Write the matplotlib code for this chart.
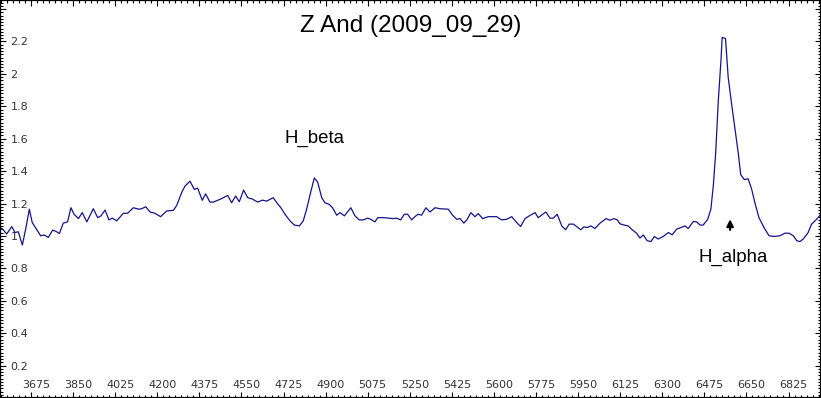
import matplotlib
matplotlib.use("Agg")
import matplotlib.pyplot as plt
from matplotlib.ticker import MultipleLocator, FuncFormatter
from matplotlib.transforms import ScaledTranslation

# spectrum
wave = [3546, 3557, 3574, 3595, 3608, 3622, 3639, 3654, 3668, 3680, 3696, 3715, 3730, 3747,
        3765, 3779, 3793, 3809, 3827, 3841, 3854, 3872, 3888, 3907, 3934, 3952, 3966, 3983,
        3999, 4013, 4031, 4059, 4077, 4100, 4124, 4135, 4152, 4170, 4190, 4214, 4239, 4267,
        4281, 4302, 4315, 4336, 4354, 4368, 4387, 4401, 4419, 4433, 4461, 4493, 4509, 4526,
        4541, 4559, 4576, 4595, 4618, 4637, 4655, 4682, 4697, 4714, 4731, 4752, 4770, 4791,
        4807, 4821, 4839, 4853, 4867, 4884, 4897, 4915, 4929, 4946, 4960, 4978, 5005, 5022,
        5040, 5057, 5075, 5092, 5105, 5117, 5140, 5161, 5181, 5195, 5212, 5227, 5241, 5258,
        5272, 5285, 5299, 5317, 5334, 5355, 5376, 5410, 5428, 5445, 5459, 5475, 5489, 5504,
        5521, 5535, 5553, 5576, 5611, 5632, 5653, 5674, 5692, 5711, 5729, 5747, 5771, 5784,
        5803, 5816, 5833, 5847, 5863, 5882, 5898, 5913, 5930, 5944, 5961, 5974, 5988, 6003,
        6020, 6041, 6066, 6082, 6099, 6113, 6124, 6142, 6158, 6175, 6193, 6207, 6221, 6237,
        6253, 6267, 6283, 6304, 6325, 6341, 6360, 6378, 6394, 6408, 6429, 6443, 6457, 6470,
        6489, 6502, 6512, 6522, 6533, 6544, 6549, 6563, 6574, 6588, 6605, 6616, 6626, 6641,
        6657, 6672, 6685, 6702, 6723, 6744, 6766, 6789, 6810, 6827, 6845, 6859, 6872, 6886,
        6905, 6921, 6942, 6956]
flux = [1.052, 1.042, 1.012, 1.058, 1.021, 1.026, 0.944, 1.052, 1.165, 1.083, 1.046, 1.001, 1.006, 0.991,
        1.036, 1.028, 1.015, 1.079, 1.087, 1.174, 1.134, 1.107, 1.144, 1.087, 1.168, 1.113, 1.124, 1.160,
        1.099, 1.110, 1.093, 1.140, 1.140, 1.174, 1.165, 1.168, 1.180, 1.148, 1.140, 1.119, 1.154, 1.158,
        1.189, 1.270, 1.307, 1.338, 1.287, 1.295, 1.220, 1.260, 1.209, 1.209, 1.226, 1.250, 1.205, 1.246,
        1.211, 1.283, 1.236, 1.228, 1.209, 1.221, 1.215, 1.236, 1.205, 1.174, 1.134, 1.093, 1.067, 1.062,
        1.093, 1.165, 1.276, 1.358, 1.332, 1.236, 1.205, 1.195, 1.174, 1.128, 1.144, 1.124, 1.174, 1.124,
        1.099, 1.099, 1.110, 1.099, 1.087, 1.113, 1.113, 1.110, 1.107, 1.110, 1.099, 1.134, 1.134, 1.099,
        1.120, 1.134, 1.128, 1.174, 1.148, 1.174, 1.168, 1.165, 1.128, 1.103, 1.107, 1.079, 1.103, 1.144,
        1.119, 1.138, 1.107, 1.119, 1.119, 1.099, 1.103, 1.119, 1.087, 1.058, 1.107, 1.124, 1.144, 1.113,
        1.134, 1.148, 1.110, 1.110, 1.134, 1.062, 1.038, 1.073, 1.073, 1.058, 1.038, 1.056, 1.052, 1.062,
        1.046, 1.079, 1.107, 1.097, 1.107, 1.099, 1.075, 1.067, 1.062, 1.038, 1.017, 0.987, 1.006, 0.971,
        0.965, 0.997, 0.981, 0.997, 1.021, 1.007, 1.042, 1.052, 1.062, 1.046, 1.089, 1.087, 1.067, 1.067,
        1.103, 1.165, 1.307, 1.511, 1.837, 2.082, 2.225, 2.218, 1.980, 1.817, 1.633, 1.511, 1.379, 1.348,
        1.352, 1.287, 1.205, 1.113, 1.052, 1.001, 0.997, 1.001, 1.017, 1.017, 1.001, 0.971, 0.965, 0.981,
        1.017, 1.073, 1.103, 1.128]

title = "Z And (2009_09_29)"
hidden_y = [0.0, 2.4]

fig = plt.figure(figsize=(8.21, 3.98), dpi=100)
ax = fig.add_axes([0, 0, 1, 1])

ax.plot(wave, flux, color="#14148c", lw=0.9)

ax.set_xlim(3546, 6960)
ax.set_ylim(0, 2.456)

ax.xaxis.set_major_locator(MultipleLocator(175))
ax.xaxis.set_minor_locator(MultipleLocator(25))
ax.yaxis.set_major_locator(MultipleLocator(0.2))
ax.yaxis.set_minor_locator(MultipleLocator(0.02))

def yfmt(v, pos):
    if any(abs(v - h) < 1e-6 for h in hidden_y) or v > 2.41:
        return ""
    return "%g" % round(v, 2)

ax.yaxis.set_major_formatter(FuncFormatter(yfmt))

ax.tick_params(which="both", direction="in", top=True, right=True, colors="black", width=0.8)
ax.tick_params(which="major", length=4.5)
ax.tick_params(which="minor", length=2.2)
ax.tick_params(axis="x", pad=-13, labelsize=8, labelcolor="#333333")
ax.tick_params(axis="y", pad=-7.5, labelsize=8, labelcolor="#333333")
for lab in ax.get_yticklabels():
    lab.set_horizontalalignment("left")

# x labels sit a few pixels right of their ticks in the original
shift = ScaledTranslation(5 / 100, 0, fig.dpi_scale_trans)
for t in ax.xaxis.get_major_ticks():
    t.label1.set_transform(t.label1.get_transform() + shift)

for sp in ax.spines.values():
    sp.set_linewidth(1.6)
    sp.set_color("black")

ax.text(0.5, 0.935, title, transform=ax.transAxes, ha="center", va="center",
        fontsize=17.5, family="Liberation Sans")
ax.text(4855, 1.6, "H_beta", ha="center", va="center", fontsize=13.4, family="Liberation Sans")
ax.text(6595, 0.87, "H_alpha", ha="center", va="center", fontsize=13.4, family="Liberation Sans")
ax.annotate("", xy=(6582, 1.12), xytext=(6582, 1.02),
            arrowprops=dict(arrowstyle="-|>", color="black", lw=1.5, mutation_scale=10))

plt.savefig("out.png", dpi=100)
